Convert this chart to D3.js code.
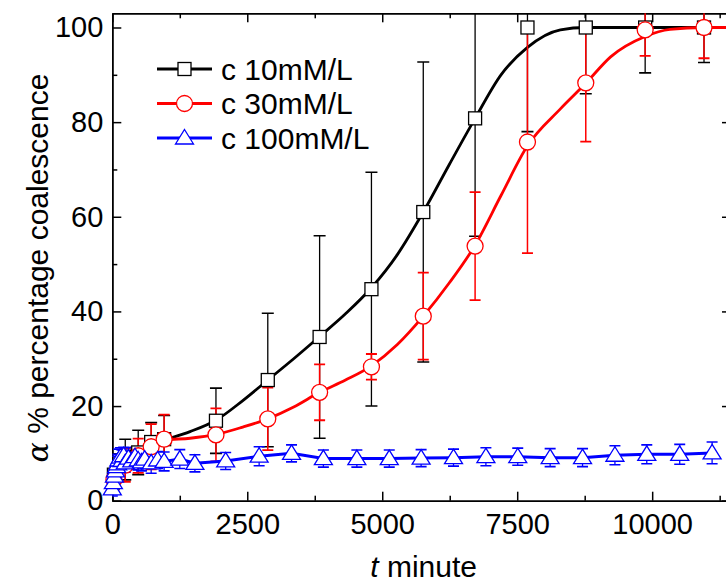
<!DOCTYPE html>
<html><head><meta charset="utf-8">
<script src="https://cdn.jsdelivr.net/npm/d3@7"></script>
<style>
body{margin:0;background:#fff}
svg{display:block}
text{font-family:"Liberation Sans",Arial,sans-serif;fill:#000}
</style>
</head><body>
<svg id="chart" width="726" height="585"></svg>
<script>
// ---- data ----
const seriesNames = ["c 10mM/L", "c 30mM/L", "c 100mM/L"];
const seriesColors = ["#000000", "#ff0000", "#0000ff"];

const t10 = [30, 240, 480, 720, 960, 1920, 2880, 3840, 4800, 5760, 6720, 7690, 8770, 9870, 10960];
const v10 = [5.5, 8.7, 10.2, 12.4, 13.0, 16.9, 25.5, 34.6, 44.7, 61.0, 80.8, 100, 100, 100, 100];
const e10 = [3.0, 4.3, 4.7, 4.1, 5.0, 6.9, 14.1, 21.4, 24.7, 31.7, 24.9, 22.0, 14.0, 9.6, 7.4];

const t30 = [30, 240, 480, 720, 960, 1920, 2880, 3840, 4800, 5760, 6720, 7690, 8770, 9870, 10960];
const v30 = [4.5, 7.5, 9.5, 11.4, 13.0, 13.9, 17.3, 22.9, 28.3, 39.0, 53.8, 75.8, 88.3, 99.5, 100];
const e30 = [2.5, 3.5, 3.6, 4.8, 5.2, 5.6, 6.6, 5.9, 2.7, 9.2, 11.4, 23.5, 12.4, 5.5, 6.5];

const t100 = [0, 20, 40, 60, 80, 100, 120, 150, 180, 210, 240, 300, 360, 420, 480, 540, 600, 720, 840, 960,
  1250, 1530, 2100, 2720, 3320, 3910, 4530, 5130, 5720, 6320, 6920, 7510, 8110, 8710, 9310, 9900, 10510, 11110];
const v100 = [2.5, 3.8, 5.2, 6.3, 7.2, 7.8, 8.6, 9.2, 8.5, 9.5, 8.0, 9.0, 8.4, 9.3, 8.6, 8.2, 8.8, 8.0, 8.6, 8.3,
  8.8, 7.9, 8.4, 9.4, 10.0, 8.9, 8.9, 8.9, 9.0, 9.1, 9.3, 9.3, 9.1, 9.1, 9.6, 9.8, 9.8, 10.1];
const e100 = [1.5, 1.8, 2.0, 2.0, 2.2, 2.0, 2.3, 2.0, 2.2, 1.8, 2.0, 2.2, 1.8, 2.0, 2.1, 1.9, 2.0, 2.2, 1.8, 2.0,
  2.0, 1.8, 1.8, 2.0, 1.8, 1.8, 1.8, 1.8, 1.8, 1.8, 1.9, 1.8, 1.9, 1.9, 2.0, 2.0, 2.1, 2.3];

// fitted curves
const fitT10 = [240, 480, 720, 960, 1440, 1920, 2400, 2880, 3360, 3840, 4320, 4800, 5280, 5760, 6240, 6720, 7200, 7690, 8300, 8770, 11460];
const fitV10 = [10.2, 11.0, 11.9, 12.8, 14.6, 17.0, 21.0, 25.5, 30.0, 34.7, 39.5, 45.0, 52.0, 61.0, 71.0, 80.8, 90.0, 95.8, 99.5, 100, 100];
const fitT30 = [240, 480, 720, 960, 1440, 1920, 2400, 2880, 3360, 3840, 4320, 4800, 5280, 5760, 6240, 6720, 7200, 7690, 8300, 8770, 9230, 9870, 10330, 10960, 11460];
const fitV30 = [9.0, 10.5, 11.8, 12.8, 13.2, 14.0, 15.5, 17.3, 19.8, 22.9, 25.5, 28.5, 33.0, 39.0, 46.0, 54.0, 64.5, 75.0, 82.8, 88.2, 93.8, 98.1, 99.6, 100, 100];

const xMajorTicks = [0, 2500, 5000, 7500, 10000];
const xMinorTicks = [1250, 3750, 6250, 8750, 11250];
const yMajorTicks = [0, 20, 40, 60, 80, 100];
const yMinorTicks = [10, 30, 50, 70, 90];

const xTitle = "minute";
const yTitle = "% percentage coalescence";

// ---- drawing ----
const svg = d3.select("#chart");
const L = 112.3, R = 731, T = 13.3, B = 500.7;
const x = d3.scaleLinear().domain([0, 11460]).range([L, R]);
const y = d3.scaleLinear().domain([0, 103]).range([B, T]);

svg.append("defs").append("clipPath").attr("id", "plotclip")
  .append("rect").attr("x", L).attr("y", T).attr("width", R - L).attr("height", B - T);

const FS = 29;
function styleAxis(g) {
  g.selectAll("path.domain").attr("stroke", "#000").attr("stroke-width", 1.5);
  g.selectAll(".tick line").attr("stroke", "#000").attr("stroke-width", 1.5);
  g.selectAll("text").attr("font-size", FS).attr("font-family", "Liberation Sans, Arial, sans-serif").attr("fill", "#000");
}
// bottom
svg.append("g").attr("transform", `translate(0,${B})`)
  .call(d3.axisBottom(x).tickValues(xMajorTicks).tickSizeInner(-9).tickSizeOuter(0).tickPadding(13).tickFormat(d3.format("d")))
  .call(styleAxis);
svg.append("g").attr("transform", `translate(0,${B})`)
  .call(d3.axisBottom(x).tickValues(xMinorTicks).tickSizeInner(-5).tickSizeOuter(0).tickFormat(""))
  .call(styleAxis);
// top
svg.append("g").attr("transform", `translate(0,${T})`)
  .call(d3.axisTop(x).tickValues(xMajorTicks).tickSizeInner(-9).tickSizeOuter(0).tickFormat(""))
  .call(styleAxis);
svg.append("g").attr("transform", `translate(0,${T})`)
  .call(d3.axisTop(x).tickValues(xMinorTicks).tickSizeInner(-5).tickSizeOuter(0).tickFormat(""))
  .call(styleAxis);
// left
svg.append("g").attr("transform", `translate(${L},0)`)
  .call(d3.axisLeft(y).tickValues(yMajorTicks).tickSizeInner(-9).tickSizeOuter(0).tickPadding(9).tickFormat(d3.format("d")))
  .call(styleAxis);
svg.append("g").attr("transform", `translate(${L},0)`)
  .call(d3.axisLeft(y).tickValues(yMinorTicks).tickSizeInner(-5).tickSizeOuter(0).tickFormat(""))
  .call(styleAxis);
// right
svg.append("g").attr("transform", `translate(${R},0)`)
  .call(d3.axisRight(y).tickValues(yMajorTicks).tickSizeInner(-9).tickSizeOuter(0).tickFormat(""))
  .call(styleAxis);
svg.append("g").attr("transform", `translate(${R},0)`)
  .call(d3.axisRight(y).tickValues(yMinorTicks).tickSizeInner(-5).tickSizeOuter(0).tickFormat(""))
  .call(styleAxis);

// titles
const xt = svg.append("text").attr("x", (L + R) / 2 + 2).attr("y", 577).attr("text-anchor", "middle").attr("font-size", 30);
xt.append("tspan").attr("font-style", "italic").text("t");
xt.append("tspan").text(" " + xTitle);
const yt = svg.append("text").attr("transform", `translate(48,268) rotate(-90)`).attr("text-anchor", "middle").attr("font-size", 30);
yt.append("tspan").attr("font-style", "italic").attr("font-family", "DejaVu Serif, serif").text("α");
yt.append("tspan").text(" " + yTitle);

// markers
function marker(g, kind, color, cx, cy) {
  if (kind === 0) {
    g.append("rect").attr("x", cx - 6.5).attr("y", cy - 6.5).attr("width", 13).attr("height", 13)
      .attr("fill", "#fff").attr("stroke", color).attr("stroke-width", 1.3);
  } else if (kind === 1) {
    g.append("circle").attr("cx", cx).attr("cy", cy).attr("r", 8)
      .attr("fill", "#fff").attr("stroke", color).attr("stroke-width", 1.3);
  } else {
    g.append("path").attr("d", `M${cx},${cy - 8.5}L${cx + 9},${cy + 6}L${cx - 9},${cy + 6}Z`)
      .attr("fill", "#fff").attr("stroke", color).attr("stroke-width", 1.3);
  }
}

const plot = svg.append("g");
const clipped = plot.append("g").attr("clip-path", "url(#plotclip)");
const lineGen = d3.line().x(d => x(d[0])).y(d => y(d[1]));

const seriesData = [
  {t: t10, v: v10, e: e10, ft: fitT10, fv: fitV10, cap: 12, ew: 1.3},
  {t: t30, v: v30, e: e30, ft: fitT30, fv: fitV30, cap: 11, ew: 1.5},
  {t: t100, v: v100, e: e100, ft: null, fv: null, cap: 11, ew: 1.3}
];

seriesData.forEach((s, k) => {
  const col = seriesColors[k];
  const gE = clipped.append("g");
  s.t.forEach((tv, i) => {
    const cx = x(tv), y1 = y(s.v[i] + s.e[i]), y0 = y(s.v[i] - s.e[i]);
    gE.append("line").attr("x1", cx).attr("x2", cx).attr("y1", y1).attr("y2", y0).attr("stroke", col).attr("stroke-width", s.ew);
    gE.append("line").attr("x1", cx - s.cap / 2).attr("x2", cx + s.cap / 2).attr("y1", y1).attr("y2", y1).attr("stroke", col).attr("stroke-width", s.ew + 0.3);
    gE.append("line").attr("x1", cx - s.cap / 2).attr("x2", cx + s.cap / 2).attr("y1", y0).attr("y2", y0).attr("stroke", col).attr("stroke-width", s.ew + 0.3);
  });
  if (s.ft) {
    const pts = s.ft.map((tv, i) => [tv, s.fv[i]]);
    clipped.append("path").datum(pts).attr("d", lineGen.curve(d3.curveMonotoneX))
      .attr("fill", "none").attr("stroke", col).attr("stroke-width", 2.8);
  } else {
    const pts = s.t.map((tv, i) => [tv, s.v[i]]);
    clipped.append("path").datum(pts).attr("d", lineGen.curve(d3.curveLinear))
      .attr("fill", "none").attr("stroke", col).attr("stroke-width", 3);
  }
  const gM = plot.append("g");
  s.t.forEach((tv, i) => marker(gM, k, col, x(tv), y(s.v[i])));
});

// legend
const legRows = [69, 103.5, 138];
const leg = svg.append("g");
seriesNames.forEach((name, k) => {
  const ly = legRows[k];
  leg.append("line").attr("x1", 157).attr("x2", 212).attr("y1", ly).attr("y2", ly)
    .attr("stroke", seriesColors[k]).attr("stroke-width", 3);
  marker(leg, k, seriesColors[k], 184.5, ly);
  leg.append("text").attr("x", 221).attr("y", ly + 10.5).attr("font-size", 30).text(name);
});
</script>
</body></html>
